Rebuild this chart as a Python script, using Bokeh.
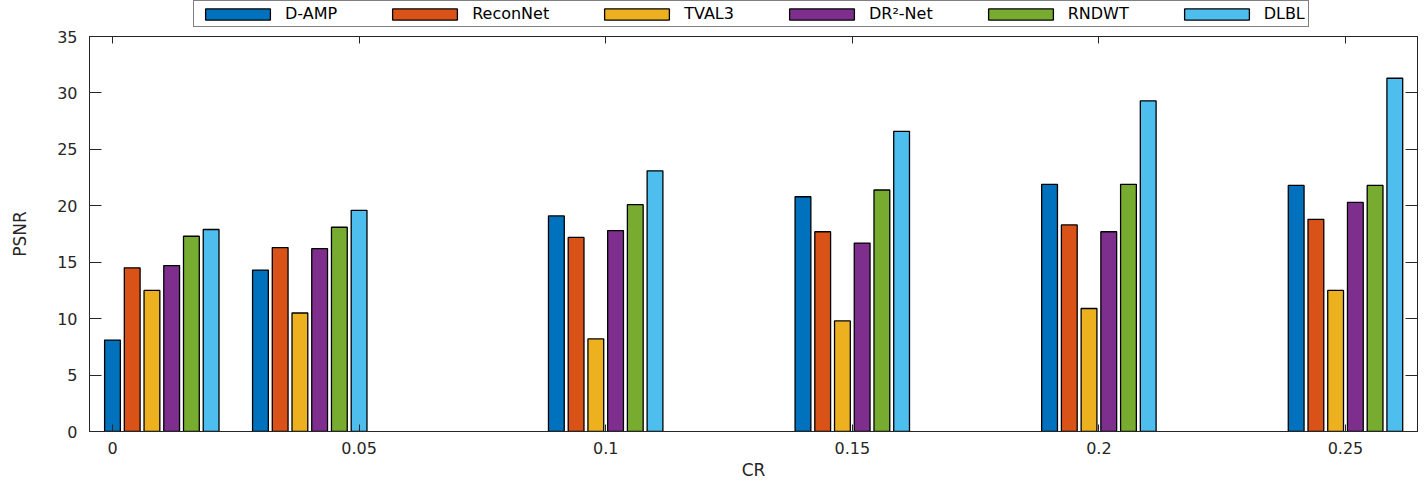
from bokeh.plotting import figure
from bokeh.layouts import column
from bokeh.models import (Range1d, LinearAxis, FixedTicker, Legend, LegendItem,
                          ColumnDataSource, CustomJSTickFormatter)
from bokeh.transform import dodge
from bokeh.embed import file_html
from bokeh.resources import INLINE

# ---- data ----
cr_positions = [0.01, 0.04, 0.10, 0.15, 0.20, 0.25]
methods = ["D-AMP", "ReconNet", "TVAL3", "DR\u00b2-Net", "RNDWT", "DLBL"]
d_amp    = [8.1, 14.3, 19.1, 20.8, 21.9, 21.8]
reconnet = [14.5, 16.3, 17.2, 17.7, 18.3, 18.8]
tval3    = [12.5, 10.5, 8.2, 9.8, 10.9, 12.5]
dr2net   = [14.7, 16.2, 17.8, 16.7, 17.7, 20.3]
rndwt    = [17.3, 18.1, 20.1, 21.4, 21.9, 21.8]
dlbl     = [17.9, 19.6, 23.1, 26.6, 29.3, 31.3]
series = [d_amp, reconnet, tval3, dr2net, rndwt, dlbl]
colors = ["#0072BD", "#D95319", "#EDB120", "#7E2F8E", "#77AC30", "#4DBEEE"]

x_tick_values = [0, 0.05, 0.1, 0.15, 0.2, 0.25]
x_tick_labels = ["0", "0.05", "0.1", "0.15", "0.2", "0.25"]
y_tick_values = [0, 5, 10, 15, 20, 25, 30, 35]

FONT = "DejaVu Sans"
TXT = "#262626"
W = 1427
LEG_H = 28

# ---------- legend strip ----------
lf = figure(width=W, height=LEG_H, x_range=Range1d(0, 1), y_range=Range1d(0, 1),
            x_axis_location=None, y_axis_location=None,
            output_backend="svg", toolbar_location=None,
            min_border=0, outline_line_color=None,
            background_fill_color="white", border_fill_color="white")
lf.xgrid.visible = False
lf.ygrid.visible = False
items = []
for name, col in zip(methods, colors):
    # legend swatch source only: a tiny bar hidden behind the opaque legend box
    r = lf.vbar(x=[0.5], bottom=[0.45], top=[0.55], width=0.005, fill_color=col,
                line_color="black", line_width=1.3)
    items.append(LegendItem(label=name, renderers=[r]))
legend = Legend(items=items, orientation="horizontal", location=(104, 1),
                glyph_width=81, glyph_height=14, label_standoff=7,
                spacing=47, padding=3, margin=0, label_height=14,
                label_text_font=FONT, label_text_font_size="16px",
                label_text_color="black",
                border_line_color="black", border_line_width=1.2,
                background_fill_color="white", background_fill_alpha=1)
lf.add_layout(legend, "center")

# ---------- main chart ----------
p = figure(width=W, height=482 - LEG_H,
           x_range=Range1d(-0.00466, 0.2646), y_range=Range1d(0, 35),
           output_backend="svg", toolbar_location=None,
           min_border_left=89, min_border_right=10,
           min_border_top=8, min_border_bottom=50,
           background_fill_color="white", border_fill_color="white")
p.xgrid.visible = False
p.ygrid.visible = False
p.outline_line_color = TXT
p.outline_line_width = 1

pitch = 0.004
bar_w = 0.0032
for i, (vals, col) in enumerate(zip(series, colors)):
    src = ColumnDataSource(dict(x=cr_positions, top=vals))
    p.vbar(x=dodge("x", (i - 2.5) * pitch, range=p.x_range), top="top",
           width=bar_w, bottom=0, source=src,
           fill_color=col, line_color="black", line_width=1.3)

# bottom axis
xa = p.xaxis[0]
xa.ticker = FixedTicker(ticks=x_tick_values)
xa.major_label_overrides = dict(zip(x_tick_values, x_tick_labels))
xa.major_tick_in = 7
xa.major_tick_out = 0
xa.minor_tick_line_color = None
xa.axis_line_color = TXT
xa.major_tick_line_color = TXT
xa.major_label_text_font = FONT
xa.major_label_text_font_size = "16px"
xa.major_label_text_color = TXT
xa.major_label_standoff = 10
xa.axis_label = "CR"
xa.axis_label_text_font = FONT
xa.axis_label_text_font_size = "17px"
xa.axis_label_text_font_style = "normal"
xa.axis_label_text_color = TXT
xa.axis_label_standoff = 3

# left axis
ya = p.yaxis[0]
ya.ticker = FixedTicker(ticks=y_tick_values)
ya.major_tick_in = 12
ya.major_tick_out = 0
ya.minor_tick_line_color = None
ya.axis_line_color = TXT
ya.major_tick_line_color = TXT
ya.major_label_text_font = FONT
ya.major_label_text_font_size = "16px"
ya.major_label_text_color = TXT
ya.major_label_standoff = 12
ya.axis_label = "PSNR"
ya.axis_label_text_font = FONT
ya.axis_label_text_font_size = "17px"
ya.axis_label_text_font_style = "normal"
ya.axis_label_text_color = TXT
ya.axis_label_standoff = 24

empty = CustomJSTickFormatter(code="return ''")

# top axis (ticks only)
ta = LinearAxis(ticker=FixedTicker(ticks=x_tick_values), formatter=empty,
                major_tick_in=7, major_tick_out=0,
                minor_tick_line_color=None, major_label_standoff=0,
                axis_line_color=TXT, major_tick_line_color=TXT)
p.add_layout(ta, "above")

# right axis (ticks only)
ra = LinearAxis(ticker=FixedTicker(ticks=y_tick_values), formatter=empty,
                major_tick_in=12, major_tick_out=0,
                minor_tick_line_color=None, major_label_standoff=0,
                axis_line_color=TXT, major_tick_line_color=TXT)
p.add_layout(ra, "right")

layout = column(lf, p, spacing=0)
open("out.html", "w").write(file_html(layout, INLINE))
